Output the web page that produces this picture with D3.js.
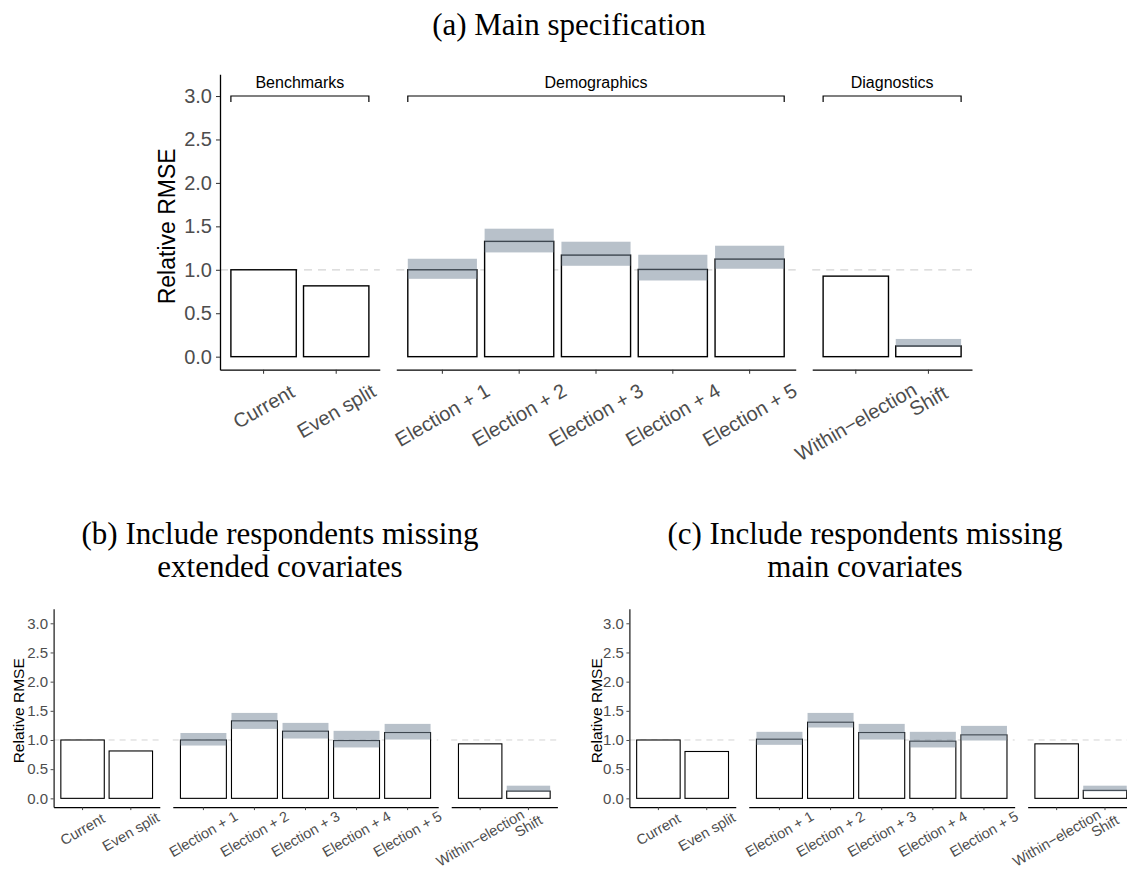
<!DOCTYPE html>
<html>
<head>
<meta charset="utf-8">
<script src="https://cdn.jsdelivr.net/npm/d3@7"></script>
<style>
  body { margin: 0; background: #fff; }
  svg { display: block; }
</style>
</head>
<body>
<div id="chart"></div>
<script>
// categories along the x axis, split in three facets
const categories = ['Current', 'Even split', 'Election + 1', 'Election + 2', 'Election + 3',
  'Election + 4', 'Election + 5', 'Within\u2212election', 'Shift'];
const groupNames = ['Benchmarks', 'Demographics', 'Diagnostics'];
const groupSizes = [2, 5, 2];
const yTicks = [0, 0.5, 1, 1.5, 2, 2.5, 3];

// (a) main specification
const mainValues = [1.00, 0.815, 1.00, 1.327, 1.169, 1.004, 1.123, 0.927, 0.123];
const mainLower  = [null, null, 0.896, 1.200, 1.046, 0.877, 1.012, null, 0.115];
const mainUpper  = [null, null, 1.127, 1.473, 1.323, 1.173, 1.277, null, 0.204];

// (b) include respondents missing extended covariates
const extValues = [1.00, 0.812, 1.00, 1.328, 1.151, 0.990, 1.128, 0.934, 0.125];
const extLower  = [null, null, 0.905, 1.190, 1.025, 0.872, 1.008, null, 0.115];
const extUpper  = [null, null, 1.120, 1.464, 1.293, 1.157, 1.276, null, 0.217];

// (c) include respondents missing main covariates
const mainMissValues = [1.00, 0.803, 1.014, 1.305, 1.128, 0.980, 1.088, 0.934, 0.137];
const mainMissLower  = [null, null, 0.917, 1.214, 1.008, 0.872, 0.991, null, 0.120];
const mainMissUpper  = [null, null, 1.140, 1.464, 1.276, 1.140, 1.242, null, 0.217];

const sans = '"Liberation Sans", Arial, Helvetica, sans-serif';
const serif = '"Liberation Serif", "Times New Roman", serif';

const svg = d3.select('#chart')
  .append('svg')
  .attr('width', 1127)
  .attr('height', 870);

function drawTitle(lines, x, y0, lineHeight) {
  const t = svg.append('text')
    .attr('text-anchor', 'middle')
    .style('font-family', serif)
    .style('font-size', '31px')
    .attr('fill', '#000');
  lines.forEach((l, i) => {
    t.append('tspan').attr('x', x).attr('y', y0 + i * lineHeight).text(l);
  });
}

function drawChart(dims, values, lower, upper) {
  const yScale = d3.scaleLinear()
    .domain([-0.15, 3.25])
    .range([dims.yBottom, dims.yTop]);

  const totalUnits = d3.sum(groupSizes);
  const avail = dims.right - dims.left - dims.gap * (groupSizes.length - 1);
  let start = dims.left;
  let idx = 0;

  groupSizes.forEach((n, g) => {
    const cats = categories.slice(idx, idx + n);
    const w = avail * n / totalUnits;
    // ggplot style: bars 0.9 wide, 0.6 units of room on each end
    const xScale = d3.scaleBand()
      .domain(cats)
      .range([start, start + w])
      .paddingInner(0.1)
      .paddingOuter(0.15);

    const rows = cats.map((c, i) => ({
      cat: c, value: values[idx + i], lo: lower[idx + i], hi: upper[idx + i]
    }));

    const panel = svg.append('g');

    // reference line at 1
    panel.append('line')
      .attr('x1', start).attr('x2', start + w)
      .attr('y1', yScale(1)).attr('y2', yScale(1))
      .attr('stroke', '#d3d3d3')
      .attr('stroke-width', dims.dashWidth)
      .attr('stroke-dasharray', dims.dash);

    panel.selectAll('rect.bar')
      .data(rows)
      .join('rect')
      .attr('class', 'bar')
      .attr('x', d => xScale(d.cat))
      .attr('width', xScale.bandwidth())
      .attr('y', d => yScale(d.value))
      .attr('height', d => yScale(0) - yScale(d.value))
      .attr('fill', '#fff')
      .attr('stroke', '#000')
      .attr('stroke-width', dims.barStroke);

    panel.selectAll('rect.band')
      .data(rows.filter(d => d.lo != null))
      .join('rect')
      .attr('class', 'band')
      .attr('x', d => xScale(d.cat))
      .attr('width', xScale.bandwidth())
      .attr('y', d => yScale(d.hi))
      .attr('height', d => yScale(d.lo) - yScale(d.hi))
      .attr('fill', '#778899')
      .attr('fill-opacity', 0.52);

    // x axis
    const xAxisGroup = panel.append('g')
      .attr('transform', `translate(0, ${dims.yBottom})`)
      .call(d3.axisBottom(xScale).tickSize(dims.tick).tickSizeOuter(0));
    xAxisGroup.select('.domain').attr('stroke', '#000').attr('stroke-width', dims.axisWidth);
    xAxisGroup.selectAll('.tick line').attr('stroke', '#333').attr('stroke-width', dims.axisWidth * 0.8);
    xAxisGroup.selectAll('.tick text')
      .style('font-family', sans)
      .style('font-size', dims.labelFont + 'px')
      .attr('fill', '#4d4d4d')
      .attr('y', null).attr('dy', null)
      .attr('text-anchor', 'middle')
      .attr('dominant-baseline', 'central')
      .attr('transform', function () {
        const len = this.getComputedTextLength();
        return `translate(0, ${dims.labelOffset + dims.labelSlope * len}) rotate(-30)`;
      });

    if (g === 0) {
      const yAxisGroup = panel.append('g')
        .attr('transform', `translate(${start}, 0)`)
        .call(d3.axisLeft(yScale)
          .tickValues(yTicks)
          .tickFormat(d3.format('.1f'))
          .tickSize(dims.tick)
          .tickPadding(dims.tickPad)
          .tickSizeOuter(0));
      yAxisGroup.select('.domain').attr('stroke', '#000').attr('stroke-width', dims.axisWidth);
      yAxisGroup.selectAll('.tick line').attr('stroke', '#333').attr('stroke-width', dims.axisWidth * 0.8);
      yAxisGroup.selectAll('.tick text')
        .style('font-family', sans)
        .style('font-size', dims.tickFont + 'px')
        .attr('fill', '#4d4d4d');

      panel.append('text')
        .attr('transform', `translate(${dims.yTitleX}, ${yScale(1.5)}) rotate(-90)`)
        .attr('text-anchor', 'middle')
        .attr('dominant-baseline', 'central')
        .style('font-family', sans)
        .style('font-size', dims.yTitleFont + 'px')
        .attr('fill', '#000')
        .text('Relative RMSE');
    }

    if (dims.brackets) {
      const bx0 = xScale(cats[0]);
      const bx1 = xScale(cats[cats.length - 1]) + xScale.bandwidth();
      panel.append('path')
        .attr('d', `M${bx0},${yScale(2.93)}V${yScale(3)}H${bx1}V${yScale(2.93)}`)
        .attr('fill', 'none')
        .attr('stroke', '#000')
        .attr('stroke-width', 1.2);
      panel.append('text')
        .attr('x', (bx0 + bx1) / 2)
        .attr('y', yScale(3.16))
        .attr('text-anchor', 'middle')
        .attr('dominant-baseline', 'central')
        .style('font-family', sans)
        .style('font-size', '16px')
        .attr('fill', '#000')
        .text(groupNames[g]);
    }

    start += w + dims.gap;
    idx += n;
  });
}

drawTitle(['(a) Main specification'], 569, 35, 31);
drawTitle(['(b) Include respondents missing', 'extended covariates'], 280, 544, 33);
drawTitle(['(c) Include respondents missing', 'main covariates'], 865, 544, 33);

drawChart({
  left: 220, right: 972, gap: 16.5,
  yBottom: 369.7, yTop: 74.3,
  tick: 4, tickPad: 4, tickFont: 20, labelFont: 20, yTitleFont: 23, yTitleX: 167,
  labelOffset: 22.4, labelSlope: 0.217, axisWidth: 1.3, barStroke: 1.4,
  dash: '8,6', dashWidth: 1.3, brackets: true
}, mainValues, mainLower, mainUpper);

drawChart({
  left: 53.6, right: 557.4, gap: 13,
  yBottom: 807.1, yTop: 608.7,
  tick: 3, tickPad: 2.5, tickFont: 15, labelFont: 14.5, yTitleFont: 15.5, yTitleX: 18,
  labelOffset: 14, labelSlope: 0.17, axisWidth: 1.1, barStroke: 1.1,
  dash: '6,5', dashWidth: 1, brackets: false
}, extValues, extLower, extUpper);

drawChart({
  left: 629.4, right: 1134, gap: 13,
  yBottom: 807.1, yTop: 608.7,
  tick: 3, tickPad: 2.5, tickFont: 15, labelFont: 14.5, yTitleFont: 15.5, yTitleX: 596,
  labelOffset: 14, labelSlope: 0.17, axisWidth: 1.1, barStroke: 1.1,
  dash: '6,5', dashWidth: 1, brackets: false
}, mainMissValues, mainMissLower, mainMissUpper);
</script>
</body>
</html>
